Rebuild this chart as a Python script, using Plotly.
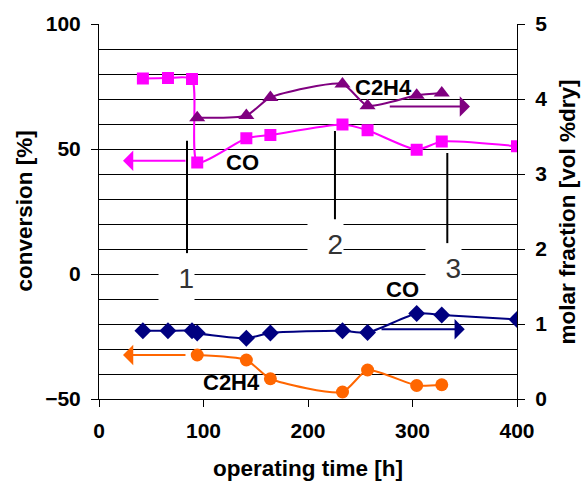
import plotly.graph_objects as go

# ---- data ----
t_co_conv = [42, 66, 89, 94, 141, 164, 233, 257, 304, 328, 400]
co_conv = [78.2, 78.4, 78.0, 44.6, 54.3, 55.6, 59.8, 57.5, 49.7, 53.0, 51.1]

t_c2h4_frac = [94, 141, 164, 233, 257, 304, 328]
c2h4_frac = [3.75, 3.78, 4.02, 4.20, 3.91, 4.05, 4.08]

t_co_frac = [42, 66, 89, 94, 141, 164, 233, 257, 304, 328, 400]
co_frac = [0.91, 0.91, 0.91, 0.88, 0.81, 0.88, 0.91, 0.886, 1.14, 1.12, 1.06]

t_c2h4_conv = [94, 141, 164, 233, 257, 304, 328]
c2h4_conv = [-32.4, -34.4, -41.9, -47.2, -38.4, -44.6, -44.3]

x_ticks = [0, 100, 200, 300, 400]
left_ticks = [-50, 0, 50, 100]
right_ticks = [0, 1, 2, 3, 4, 5]

# annotation anchors (data coords)
marker_labels = ["1", "2", "3"]
marker_label_x = [74.2, 216.3, 330.1]
marker_label_y = [-1.6, 12.2, 2.4]
pointer_x = [84.2, 225.8, 333.3]
pointer_y_top = [53.3, 57.2, 48.4]
pointer_y_bot = [8.3, 21.8, 12.3]

FONT = "Liberation Sans, Arial, sans-serif"
MAGENTA = "#FF00FF"
PURPLE = "#800080"
NAVY = "#000080"
ORANGE = "#FF6600"

fig = go.Figure()
fig.add_trace(go.Scatter(x=t_co_conv, y=co_conv, mode="lines+markers",
                         line=dict(color=MAGENTA, width=2, shape="spline", smoothing=0.6),
                         marker=dict(symbol="square", size=12, color=MAGENTA),
                         yaxis="y", showlegend=False))
fig.add_trace(go.Scatter(x=t_c2h4_frac, y=c2h4_frac, mode="lines+markers",
                         line=dict(color=PURPLE, width=2, shape="spline", smoothing=0.6),
                         marker=dict(symbol="triangle-up", size=14, color=PURPLE),
                         yaxis="y2", showlegend=False))
fig.add_trace(go.Scatter(x=t_co_frac, y=co_frac, mode="lines+markers",
                         line=dict(color=NAVY, width=2, shape="spline", smoothing=0.6),
                         marker=dict(symbol="diamond", size=13, color=NAVY),
                         yaxis="y2", showlegend=False))
fig.add_trace(go.Scatter(x=t_c2h4_conv, y=c2h4_conv, mode="lines+markers",
                         line=dict(color=ORANGE, width=2, shape="spline", smoothing=0.6),
                         marker=dict(symbol="circle", size=13, color=ORANGE),
                         yaxis="y", showlegend=False))

ann = []
# direction arrows
def arrow(x_head, x_tail, yv, color, yref):
    ann.append(dict(x=x_head, y=yv, ax=x_tail, ay=yv, xref="x", yref=yref,
                    axref="x", ayref=yref, text="", showarrow=True,
                    arrowhead=1, arrowsize=1.7, arrowwidth=2, arrowcolor=color))

arrow(23, 84.2, 45.3, MAGENTA, "y")
arrow(355, 276.8, 3.9, PURPLE, "y2")
arrow(350, 268.9, 0.93, NAVY, "y2")
arrow(23, 84.2, -32.4, ORANGE, "y")

# series labels
lab_font = dict(family=FONT, size=22, color="black", weight="bold")
ann.append(dict(x=137, y=44.5, xref="x", yref="y", text="CO", showarrow=False, font=lab_font))
ann.append(dict(x=272, y=4.16, xref="x", yref="y2", text="C2H4", showarrow=False, font=lab_font))
ann.append(dict(x=290, y=1.46, xref="x", yref="y2", text="CO", showarrow=False, font=lab_font))
ann.append(dict(x=127, y=-43.3, xref="x", yref="y", text="C2H4", showarrow=False, font=lab_font))

# numbered labels with white boxes
for lab, lx, ly in zip(marker_labels, marker_label_x, marker_label_y):
    ann.append(dict(x=lx, y=ly, xref="x", yref="y", text=lab, showarrow=False,
                    font=dict(family=FONT, size=28, color="#333333"),
                    bgcolor="white", width=35, height=48, align="right",
                    valign="middle", borderpad=0))

# axis titles
title_font = dict(family=FONT, size=22.5, color="black", weight="bold")
ann.append(dict(x=-0.1794, y=0.5, xref="paper", yref="paper", text="conversion [%]",
                textangle=-90, showarrow=False, font=title_font,
                xanchor="center", yanchor="middle"))
ann.append(dict(x=1.122, y=0.5, xref="paper", yref="paper", text="molar fraction [vol %dry]",
                textangle=-90, showarrow=False, font=title_font,
                xanchor="center", yanchor="middle"))
ann.append(dict(x=0.5, y=-0.1864, xref="paper", yref="paper", text="operating time [h]",
                showarrow=False, font=title_font, xanchor="center", yanchor="middle"))

shapes = []
for px, y0, y1 in zip(pointer_x, pointer_y_top, pointer_y_bot):
    shapes.append(dict(type="line", xref="x", yref="y", x0=px, x1=px, y0=y0, y1=y1,
                       line=dict(color="black", width=2)))

tick_font = dict(family=FONT, size=21, color="black", weight="bold")
fig.update_layout(
    width=582, height=486,
    margin=dict(l=99, r=65, t=18, b=87),
    paper_bgcolor="white", plot_bgcolor="white",
    annotations=ann, shapes=shapes,
    xaxis=dict(range=[0, 400], tickvals=x_ticks, ticks="outside", ticklen=7,
               tickcolor="black", showline=True, linecolor="black", linewidth=1,
               showgrid=False, zeroline=False, tickfont=tick_font,
               ticklabelstandoff=6),
    yaxis=dict(range=[-50, 100], tickvals=left_ticks, ticks="outside", ticklen=7,
               tickcolor="black", showline=True, linecolor="black", linewidth=1,
               showgrid=True, gridcolor="black", gridwidth=1, zeroline=False,
               minor=dict(dtick=10, tick0=0, showgrid=True, gridcolor="black",
                          gridwidth=1, ticks=""),
               tickfont=tick_font, ticklabelstandoff=6),
    yaxis2=dict(range=[0, 5], tickvals=right_ticks, overlaying="y", side="right",
                ticks="outside", ticklen=7, tickcolor="black", showline=True,
                linecolor="black", linewidth=1, showgrid=False, zeroline=False,
                tickfont=tick_font, ticklabelstandoff=6),
)

fig.write_html("out.html")
